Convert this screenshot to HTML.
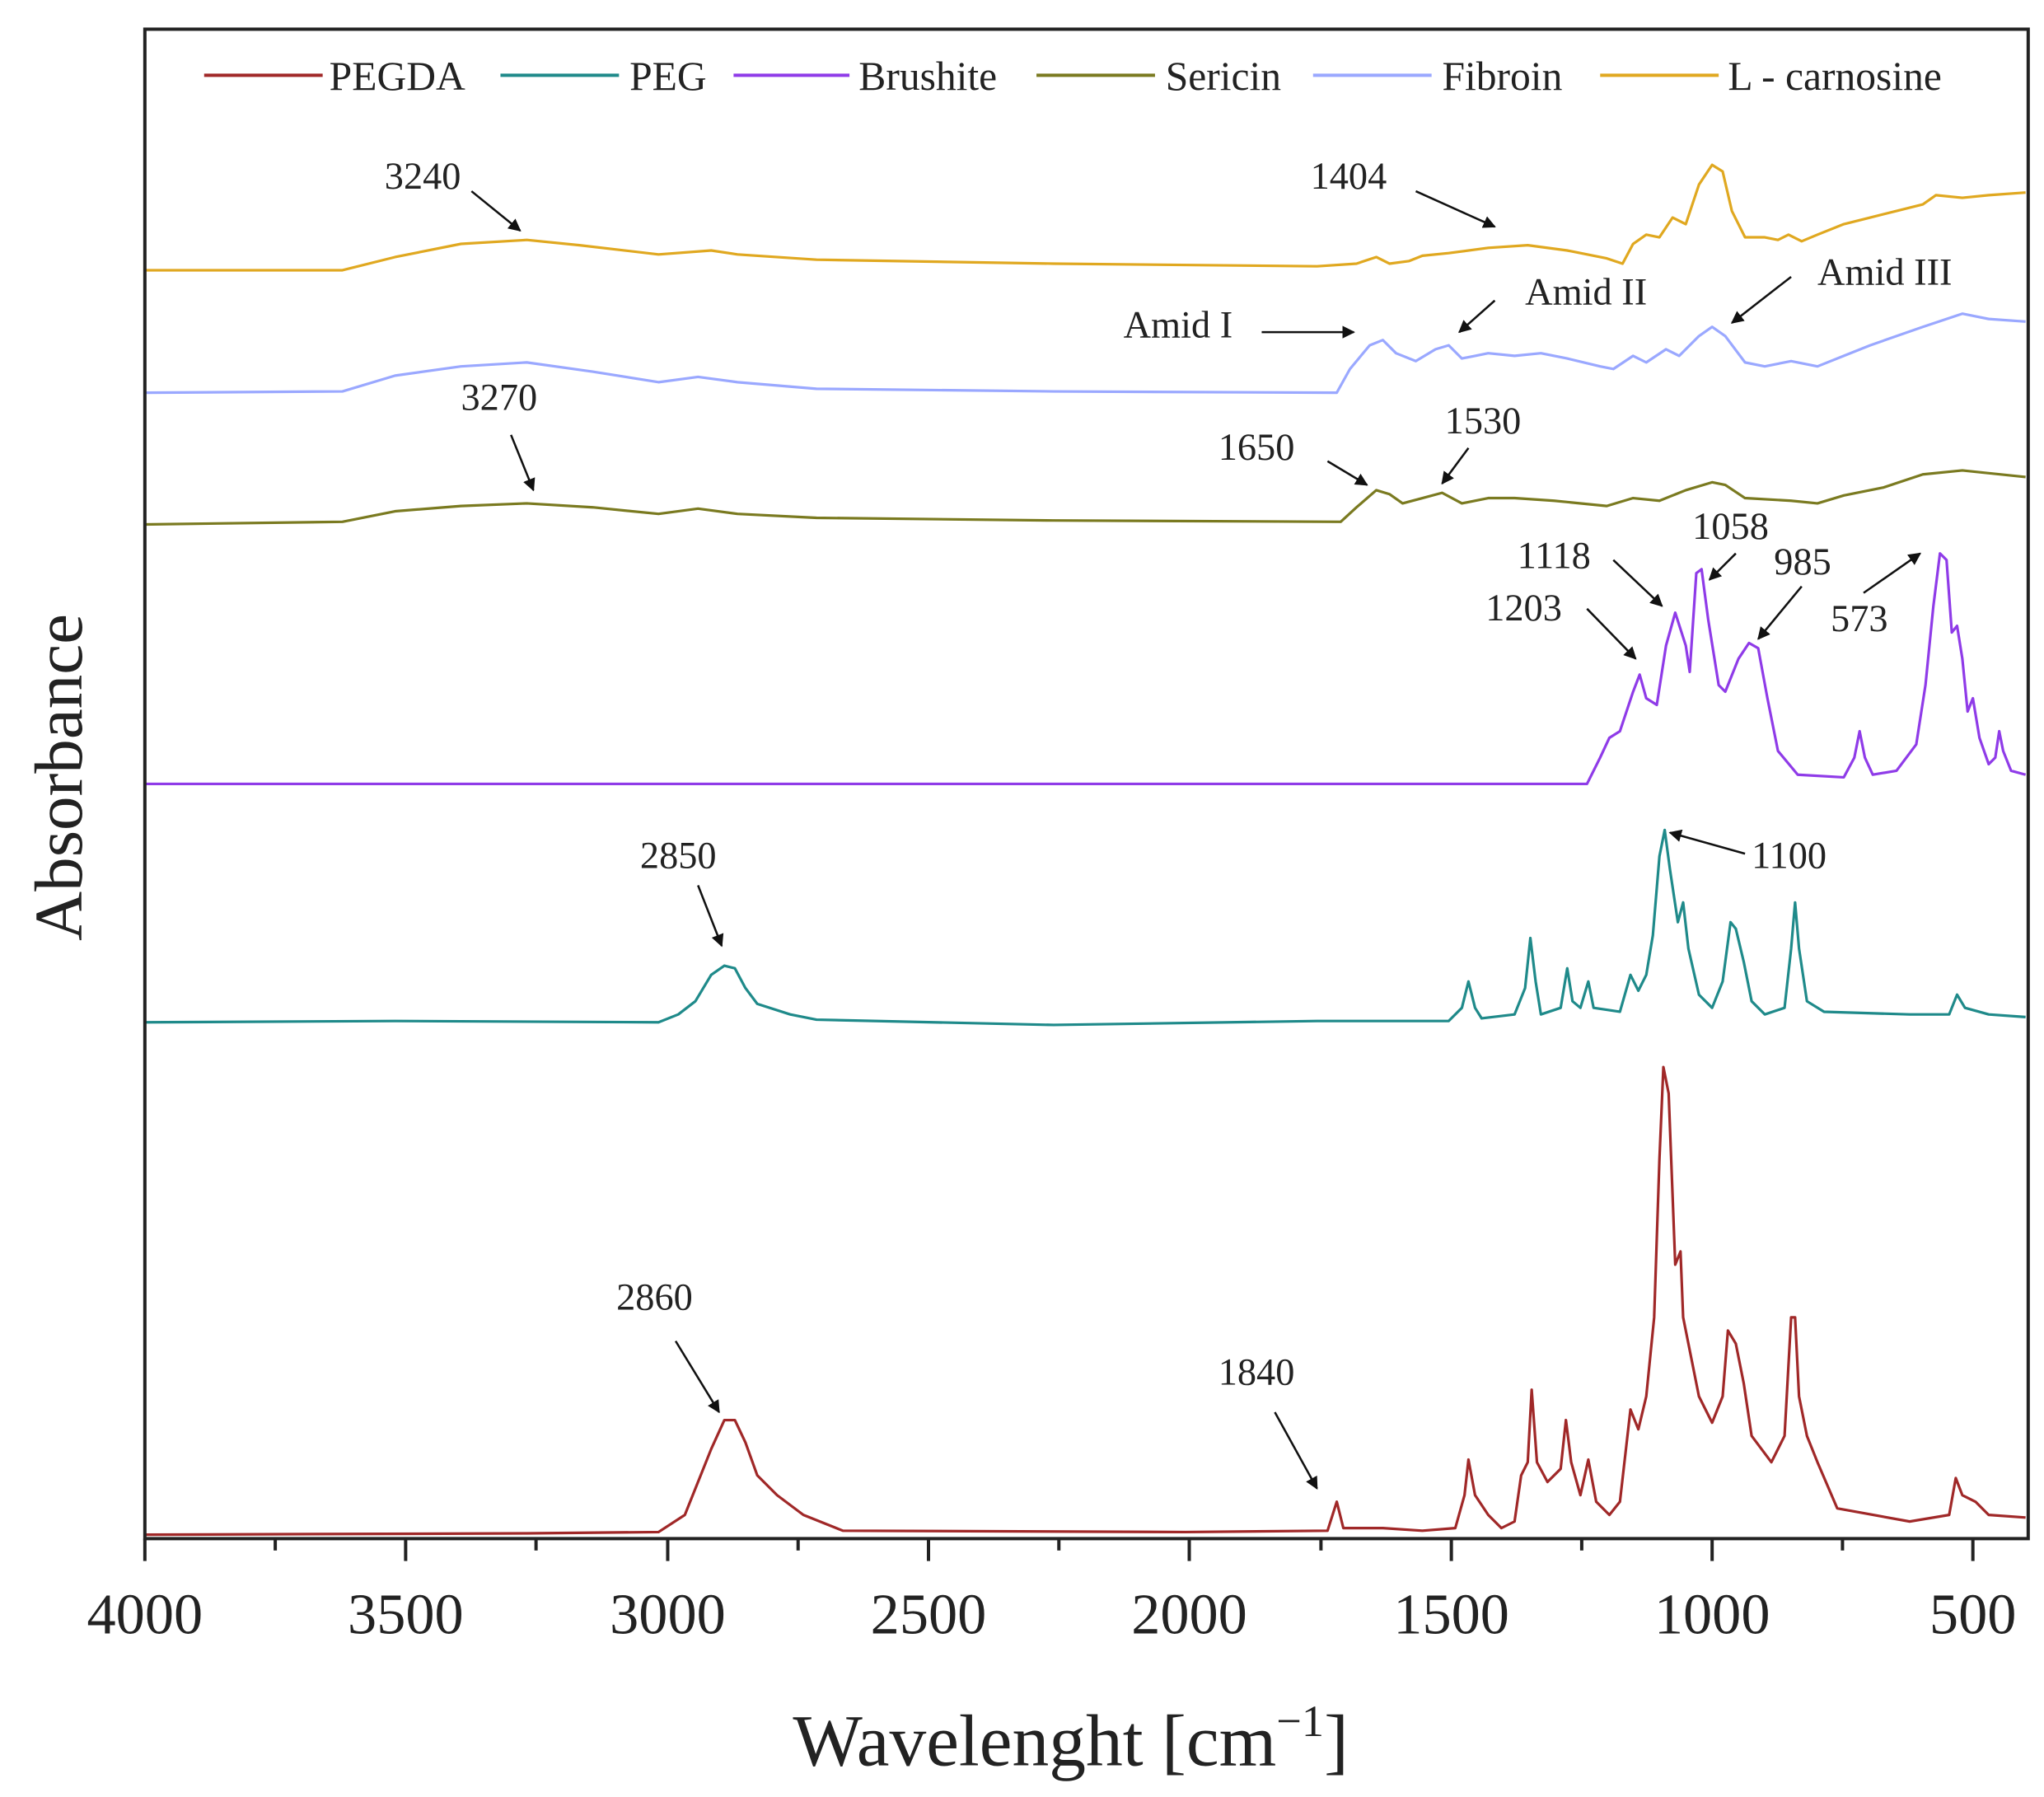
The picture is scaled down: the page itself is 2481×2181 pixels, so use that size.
<!DOCTYPE html>
<html><head><meta charset="utf-8"><style>
html,body{margin:0;padding:0;background:#fff;}
svg{display:block;}
text{font-family:"Liberation Serif",serif;fill:#222;}
</style></head><body>
<svg width="2481" height="2181" viewBox="0 0 1552 1364" xmlns="http://www.w3.org/2000/svg">
<defs><marker id="ah" viewBox="0 0 10 10" refX="9" refY="5" markerWidth="6" markerHeight="6" orient="auto"><path d="M0,0 L10,5 L0,10 z" fill="#111"/></marker></defs>
<g fill="none" stroke-width="2" stroke-linejoin="round">
<polyline stroke="#e0a820" points="110,205 260,205 300,195 350,185 400,182 440,186 500,193 540,190 560,193 620,197 800,200 1000,202 1030,200 1045,195 1055,200 1070,198 1080,194 1100,192 1130,188 1160,186 1190,190 1220,196 1232,200 1240,185 1250,178 1260,180 1270,165 1280,170 1290,140 1300,125 1308,130 1315,160 1325,180 1340,180 1350,182 1358,178 1368,183 1380,178 1400,170 1420,165 1440,160 1460,155 1470,148 1490,150 1510,148 1538,146"/>
<polyline stroke="#9aa8ff" points="110,298 260,297 300,285 350,278 400,275 450,282 500,290 530,286 560,290 620,295 800,297 1015,298 1025,280 1040,262 1050,258 1060,268 1075,274 1090,265 1100,262 1110,272 1120,270 1130,268 1150,270 1170,268 1190,272 1215,278 1225,280 1240,270 1250,275 1265,265 1275,270 1290,255 1300,248 1310,255 1325,275 1340,278 1360,274 1380,278 1400,270 1420,262 1440,255 1460,248 1490,238 1510,242 1538,244"/>
<polyline stroke="#7a7a20" points="110,398 260,396 300,388 350,384 400,382 450,385 500,390 530,386 560,390 620,393 800,395 1018,396 1030,385 1045,372 1055,375 1065,382 1080,378 1095,374 1110,382 1130,378 1150,378 1180,380 1220,384 1240,378 1260,380 1280,372 1300,366 1310,368 1325,378 1360,380 1380,382 1400,376 1430,370 1460,360 1490,357 1538,362"/>
<polyline stroke="#8f3be8" points="110,595 1205,595 1215,575 1222,560 1230,555 1235,540 1240,525 1245,512 1250,530 1258,535 1265,490 1272,465 1280,490 1283,510 1288,435 1292,432 1297,470 1305,520 1310,525 1320,500 1328,488 1335,492 1342,530 1350,570 1365,588 1400,590 1408,575 1412,555 1416,575 1422,588 1440,585 1455,565 1462,520 1468,460 1473,420 1478,425 1482,480 1486,475 1490,500 1494,540 1498,530 1503,560 1510,580 1515,575 1518,555 1521,570 1527,585 1538,588"/>
<polyline stroke="#1f8a8a" points="110,776 300,775 500,776 515,770 528,760 540,740 550,733 558,735 566,750 575,762 600,770 620,774 800,778 1000,775 1100,775 1110,765 1115,745 1120,765 1125,773 1150,770 1158,750 1162,712 1166,745 1170,770 1185,765 1190,735 1194,760 1200,765 1206,745 1210,765 1230,768 1238,740 1244,752 1250,740 1255,710 1260,650 1264,630 1268,660 1274,700 1278,685 1282,720 1290,755 1300,765 1308,745 1314,700 1318,705 1324,730 1330,760 1340,770 1355,765 1360,720 1363,685 1366,720 1372,760 1385,768 1450,770 1480,770 1486,755 1492,765 1510,770 1538,772"/>
<polyline stroke="#a02828" points="110,1165 400,1164 500,1163 520,1150 540,1100 550,1078 558,1078 566,1095 575,1120 590,1135 610,1150 640,1162 900,1163 1008,1162 1015,1140 1020,1160 1050,1160 1080,1162 1105,1160 1112,1135 1115,1108 1120,1135 1130,1150 1140,1160 1150,1155 1155,1120 1160,1110 1163,1055 1167,1110 1175,1125 1185,1115 1189,1078 1193,1110 1200,1135 1206,1108 1212,1140 1222,1150 1230,1140 1238,1070 1244,1085 1250,1060 1256,1000 1260,880 1263,810 1267,830 1272,960 1276,950 1278,1000 1282,1020 1290,1060 1300,1080 1308,1060 1312,1010 1318,1020 1324,1050 1330,1090 1345,1110 1355,1090 1360,1000 1363,1000 1366,1060 1372,1090 1380,1110 1395,1145 1450,1155 1480,1150 1485,1122 1490,1135 1500,1140 1510,1150 1538,1152"/>
</g>
<!-- frame -->
<rect x="110" y="22" width="1430" height="1146" fill="none" stroke="#222" stroke-width="2.5"/>
<g stroke="#222" stroke-width="2.5">
<line x1="110" y1="1168" x2="110" y2="1185"/><line x1="308" y1="1168" x2="308" y2="1185"/><line x1="507" y1="1168" x2="507" y2="1185"/><line x1="705" y1="1168" x2="705" y2="1185"/><line x1="903" y1="1168" x2="903" y2="1185"/><line x1="1102" y1="1168" x2="1102" y2="1185"/><line x1="1300" y1="1168" x2="1300" y2="1185"/><line x1="1498" y1="1168" x2="1498" y2="1185"/>
<line x1="209" y1="1168" x2="209" y2="1177"/><line x1="407" y1="1168" x2="407" y2="1177"/><line x1="606" y1="1168" x2="606" y2="1177"/><line x1="804" y1="1168" x2="804" y2="1177"/><line x1="1003" y1="1168" x2="1003" y2="1177"/><line x1="1201" y1="1168" x2="1201" y2="1177"/><line x1="1399" y1="1168" x2="1399" y2="1177"/>
</g>
<g font-size="44" text-anchor="middle">
<text x="110" y="1240">4000</text><text x="308" y="1240">3500</text><text x="507" y="1240">3000</text><text x="705" y="1240">2500</text><text x="903" y="1240">2000</text><text x="1102" y="1240">1500</text><text x="1300" y="1240">1000</text><text x="1498" y="1240">500</text>
</g>
<text x="813" y="1340" font-size="56" text-anchor="middle">Wavelenght [cm<tspan font-size="34" dy="-22">−1</tspan><tspan dy="22">]</tspan></text>
<text transform="translate(62,590) rotate(-90)" font-size="52" text-anchor="middle">Absorbance</text>
<!-- legend -->
<g stroke-width="2.5">
<line x1="155" y1="57" x2="245" y2="57" stroke="#a02828"/><line x1="380" y1="57" x2="470" y2="57" stroke="#1f8a8a"/><line x1="557" y1="57" x2="645" y2="57" stroke="#8f3be8"/><line x1="787" y1="57" x2="877" y2="57" stroke="#7a7a20"/><line x1="997" y1="57" x2="1087" y2="57" stroke="#9aa8ff"/><line x1="1215" y1="57" x2="1305" y2="57" stroke="#e0a820"/>
</g>
<g font-size="31">
<text x="250" y="68">PEGDA</text><text x="478" y="68">PEG</text><text x="652" y="68">Brushite</text><text x="885" y="68">Sericin</text><text x="1095" y="68">Fibroin</text><text x="1312" y="68">L - carnosine</text>
</g>
<!-- annotations -->
<g font-size="29">
<text x="292" y="143">3240</text><text x="995" y="143">1404</text>
<text x="853" y="256">Amid I</text><text x="1158" y="231">Amid II</text><text x="1380" y="216">Amid III</text>
<text x="350" y="311">3270</text><text x="925" y="349">1650</text><text x="1097" y="329">1530</text>
<text x="1285" y="409">1058</text><text x="1152" y="431">1118</text><text x="1347" y="436">985</text><text x="1128" y="471">1203</text><text x="1390" y="479">573</text>
<text x="486" y="659">2850</text><text x="1330" y="659">1100</text>
<text x="468" y="994">2860</text><text x="925" y="1051">1840</text>
</g>
<g stroke="#111" stroke-width="1.6" marker-end="url(#ah)">
<line x1="358" y1="145" x2="395" y2="175"/><line x1="1075" y1="145" x2="1135" y2="172"/>
<line x1="958" y1="252" x2="1028" y2="252"/><line x1="1135" y1="228" x2="1108" y2="252"/><line x1="1360" y1="210" x2="1315" y2="245"/>
<line x1="388" y1="330" x2="405" y2="372"/><line x1="1008" y1="350" x2="1038" y2="368"/><line x1="1115" y1="340" x2="1095" y2="367"/>
<line x1="1318" y1="420" x2="1298" y2="440"/><line x1="1225" y1="425" x2="1262" y2="460"/><line x1="1368" y1="445" x2="1335" y2="485"/><line x1="1205" y1="462" x2="1242" y2="500"/><line x1="1415" y1="450" x2="1458" y2="420"/>
<line x1="530" y1="672" x2="548" y2="718"/><line x1="1325" y1="648" x2="1268" y2="632"/>
<line x1="513" y1="1018" x2="546" y2="1072"/><line x1="968" y1="1072" x2="1000" y2="1130"/>
</g>
</svg>
</body></html>
